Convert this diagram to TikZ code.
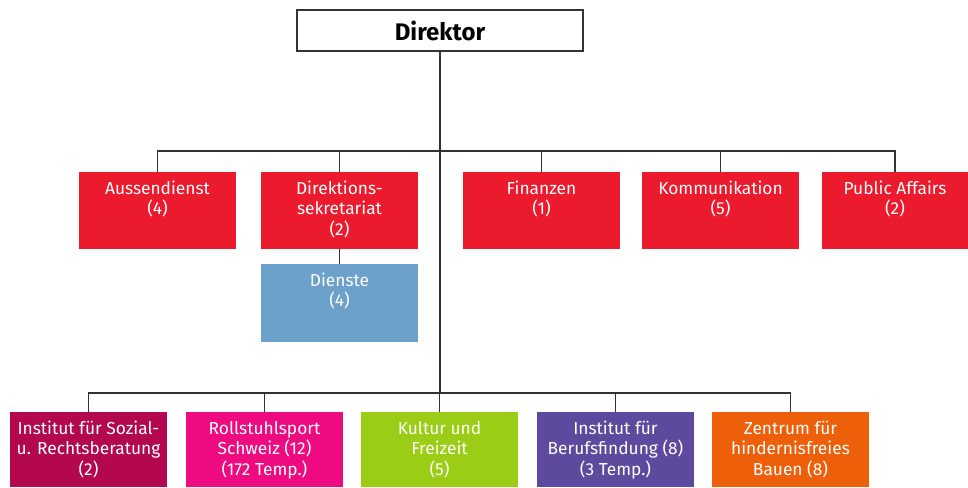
\documentclass[tikz,border=0pt]{standalone}
\usepackage{fontspec}
\setmainfont{Fira Sans}
\usetikzlibrary{positioning, calc}
\definecolor{ink}{HTML}{333333}
\definecolor{unitred}{HTML}{EC1A2D}
\definecolor{unitblue}{HTML}{6CA1CB}
\definecolor{unitplum}{HTML}{B3074F}
\definecolor{unitpink}{HTML}{EE0A80}
\definecolor{unitgreen}{HTML}{9BCD16}
\definecolor{unitviolet}{HTML}{5D4A9E}
\definecolor{unitorange}{HTML}{EE5F0A}
\newcommand{\unitlines}[1]{\begin{tabular}[t]{@{}c@{}}#1\end{tabular}}
\tikzset{
  %
  head/.style={draw=ink, line width=0.9pt, fill=white, text=black,
               minimum width=214.5pt, minimum height=30.75pt, inner sep=0pt,
               font=\fontsize{18}{21}\selectfont\bfseries},
  unit/.style={draw=none, text=white, inner xsep=0pt,
               inner ysep=7.5pt, minimum width=117.75pt,
               text height=9pt, text depth=33.75pt,
               font=\fontsize{13}{15.5}\selectfont},
  unitlow/.style={unit, text depth=32.25pt},
  %
  wire/.style={draw=ink, line width=0.9pt},
}
\begin{document}
\begin{tikzpicture}[x=0.75pt, y=-0.75pt]
  \useasboundingbox (0,0) rectangle (968,487);

  % --- top --------------------------------------------------------------
  \node[head] (dir) at (440,30.5) {Direktor};

  % --- staff row --------------------------------------------------------
  \node[unit, fill=unitred] (aus) at (157.5,210.5) {\unitlines{Aussendienst\\(4)}};
  \node[unit, fill=unitred] (dks) at (339.5,210.5) {\unitlines{Direktions-\\sekretariat\\(2)}};
  \node[unit, fill=unitred] (fin) at (541.5,210.5) {\unitlines{Finanzen\\(1)}};
  \node[unit, fill=unitred] (kom) at (720.5,210.5) {\unitlines{Kommunikation\\(5)}};
  \node[unit, fill=unitred, minimum width=109.5pt] (pa) at (895,210.5) {\unitlines{Public Affairs\\(2)}};

  \node[unit, fill=unitblue, text depth=34.5pt] (dst) at (339.5,303) {\unitlines{Dienste\\(4)}};

  % --- departments ------------------------------------------------------
  \node[unitlow, fill=unitplum]  (isr) at (88.5,449.5)  {\unitlines{Institut für Sozial-\\u. Rechtsberatung\\(2)}};
  \node[unitlow, fill=unitpink]  (rss) at (264.5,449.5) {\unitlines{Rollstuhlsport\\Schweiz (12)\\(172 Temp.)}};
  \node[unitlow, fill=unitgreen] (kuf) at (439.5,449.5) {\unitlines{Kultur und\\Freizeit\\(5)}};
  \node[unitlow, fill=unitviolet] (ibf) at (615.5,449.5) {\unitlines{Institut für\\Berufsfindung (8)\\(3 Temp.)}};
  \node[unitlow, fill=unitorange] (zhb) at (790.5,449.5) {\unitlines{Zentrum für\\hindernisfreies\\Bauen (8)}};

  % --- wiring -----------------------------------------------------------
  \coordinate (topbus) at (0,151);
  \coordinate (lowbus) at (0,393);

  \draw[wire] (dir.south) -- (dir.south |- lowbus);
  \draw[wire] (aus.north) -- (aus.north |- topbus) -| (pa.north);
  \foreach \n in {dks, fin, kom}
    \draw[wire] (\n.north) -- (\n.north |- topbus);
  \draw[wire] (dks.south) -- (dst.north);

  \draw[wire] (isr.north) -- (isr.north |- lowbus) -| (zhb.north);
  \foreach \n in {rss, kuf, ibf}
    \draw[wire] (\n.north) -- (\n.north |- lowbus);

\end{tikzpicture}
\end{document}
